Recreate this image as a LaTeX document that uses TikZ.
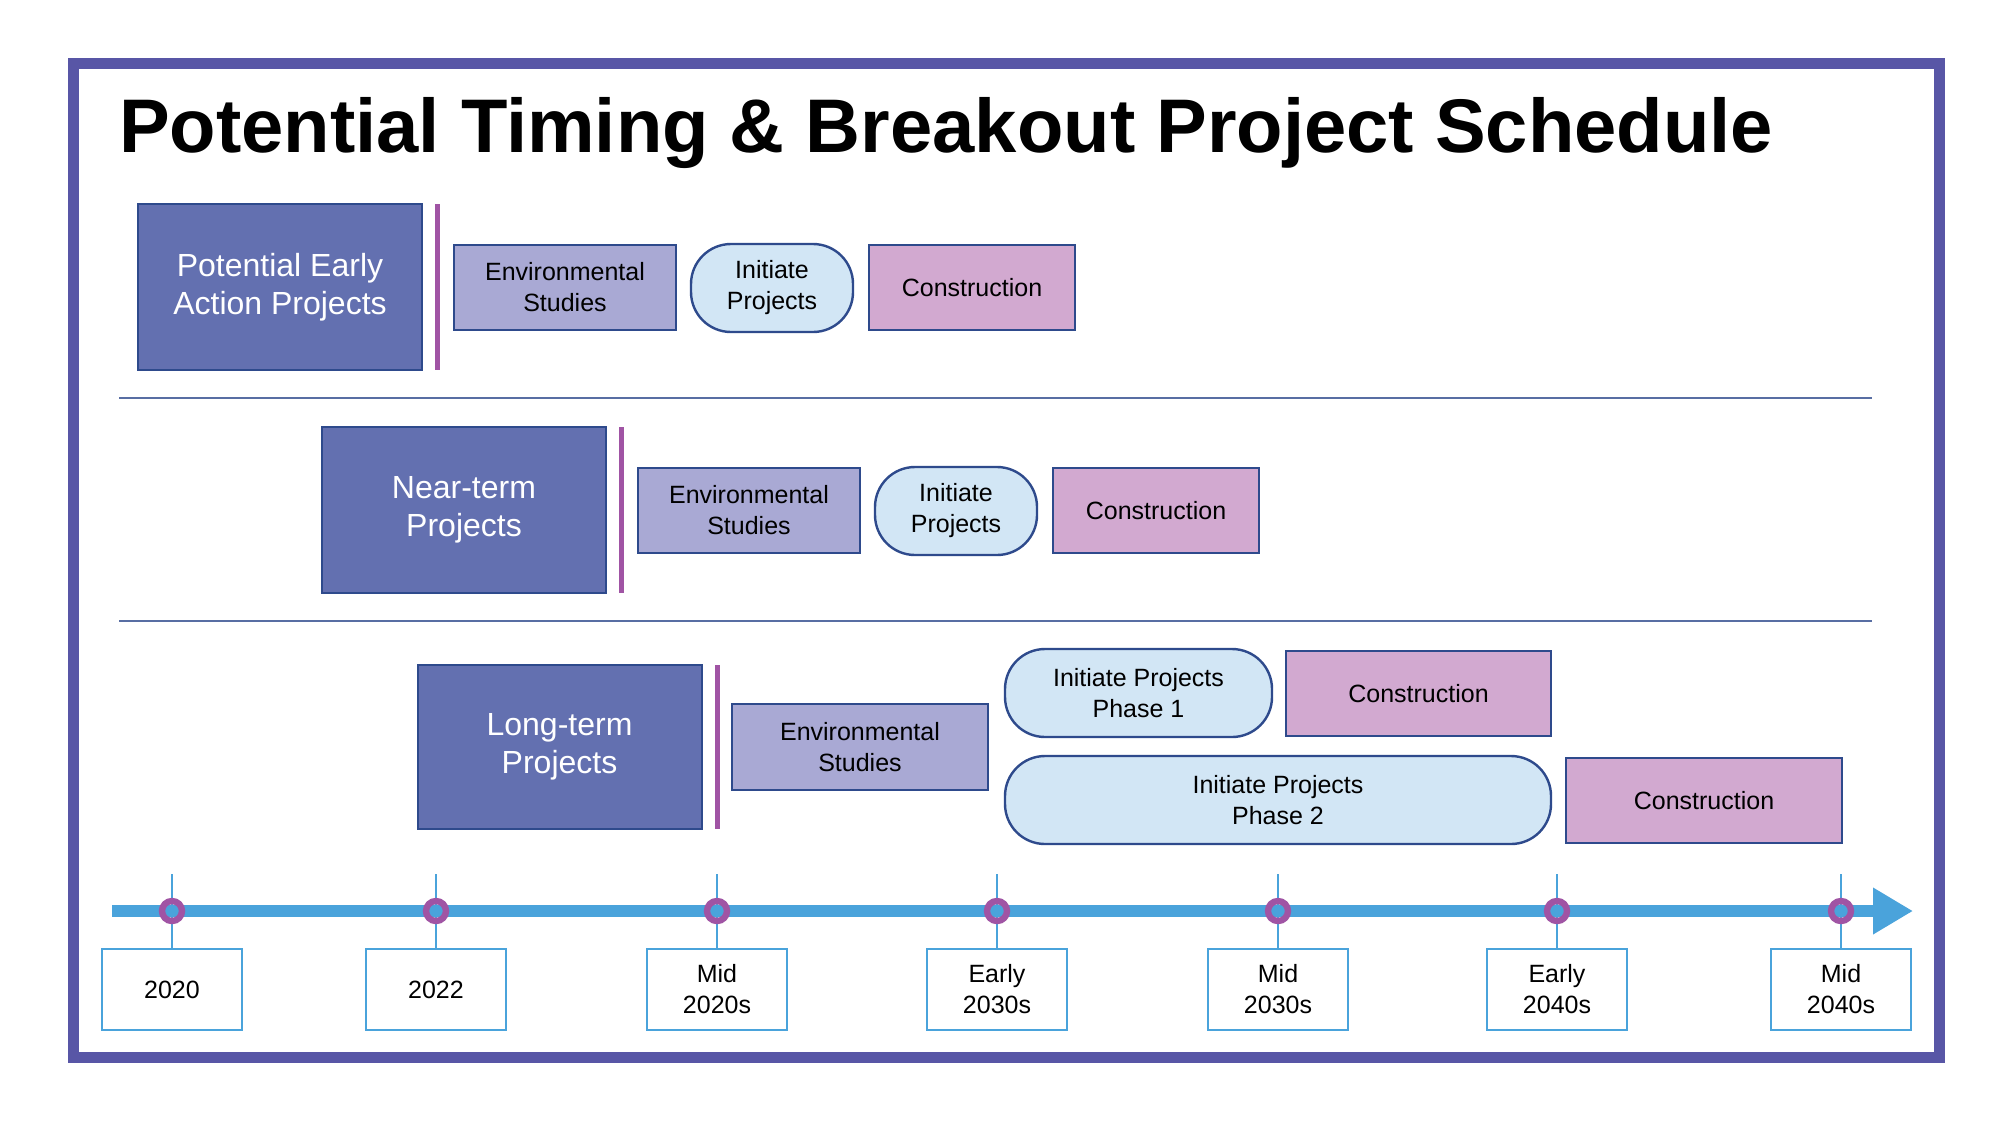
\documentclass[tikz,border=0pt]{standalone}
\usepackage{fontspec}
\setmainfont{Liberation Sans}
\usetikzlibrary{arrows.meta}
\definecolor{frame}{HTML}{5856A6}
\definecolor{cat}{HTML}{6370B0}
\definecolor{env}{HTML}{A9A9D4}
\definecolor{ovl}{HTML}{D2E6F5}
\definecolor{con}{HTML}{D2A9D0}
\definecolor{edge}{HTML}{2E4A8C}
\definecolor{tl}{HTML}{4AA3DB}
\definecolor{bar}{HTML}{A054A4}
\begin{document}
\begin{tikzpicture}[x=0.5pt,y=-0.5pt,
  catbox/.style={draw=edge,line width=1pt,fill=cat,text=white,font=\fontsize{16}{19}\selectfont,align=center},
  envbox/.style={draw=edge,line width=0.8pt,fill=env,font=\fontsize{12.5}{15.5}\selectfont,align=center},
  ovbox/.style={draw=edge,line width=1.2pt,fill=ovl,rounded corners=20pt,font=\fontsize{12.5}{15.5}\selectfont,align=center},
  conbox/.style={draw=edge,line width=0.8pt,fill=con,font=\fontsize{12.5}{15.5}\selectfont,align=center},
  lblbox/.style={draw=tl,line width=0.9pt,fill=white,font=\fontsize{12.5}{15.5}\selectfont,align=center,minimum width=70pt,minimum height=40.5pt,inner sep=0pt},
  barline/.style={draw=bar,line width=2.5pt},
  sep/.style={draw=edge!80,line width=0.7pt}]
\useasboundingbox (0,0) rectangle (2000,1125);
\fill[white] (0,0) rectangle (2000,1125);
\draw[frame,line width=5.5pt] (73,63) rectangle (1939,1057);
\node[anchor=west,font=\bfseries\fontsize{38}{44}\selectfont] (title) at (112,133) {Potential Timing \& Breakout Project Schedule};
% row 1
\node[catbox,minimum width=142pt,minimum height=83pt] (c1) at (280,287) {Potential Early\\Action Projects};
\draw[barline] (437.5,204) -- (437.5,370);
\node[envbox,minimum width=111pt,minimum height=42.5pt] (e1) at (565,287.5) {Environmental\\Studies};
\node[ovbox,minimum width=81pt,minimum height=44pt] (i1) at (772,288) {Initiate\\Projects};
\node[conbox,minimum width=103pt,minimum height=42.5pt] (k1) at (972,287.5) {Construction};
\coordinate (s1a) at (119,398); \coordinate (s1b) at (1872,398);
\draw[sep] (s1a) -- (s1b);
% row 2
\node[catbox,minimum width=142pt,minimum height=83pt] (c2) at (464,510) {Near-term\\Projects};
\draw[barline] (621.5,427) -- (621.5,593);
\node[envbox,minimum width=111pt,minimum height=42.5pt] (e2) at (749,510.5) {Environmental\\Studies};
\node[ovbox,minimum width=81pt,minimum height=44pt] (i2) at (956,511) {Initiate\\Projects};
\node[conbox,minimum width=103pt,minimum height=42.5pt] (k2) at (1156,510.5) {Construction};
\coordinate (s2a) at (119,621); \coordinate (s2b) at (1872,621);
\draw[sep] (s2a) -- (s2b);
% row 3
\node[catbox,minimum width=142pt,minimum height=82pt] (c3) at (559.5,747) {Long-term\\Projects};
\draw[barline] (717,665) -- (717,829);
\node[envbox,minimum width=128pt,minimum height=43pt] (e3) at (860,747) {Environmental\\Studies};
\node[ovbox,minimum width=133.5pt,minimum height=44pt] (p1) at (1138.5,693) {Initiate Projects\\Phase 1};
\node[conbox,minimum width=132.5pt,minimum height=42.5pt] (k3) at (1418.5,693.5) {Construction};
\node[ovbox,minimum width=273pt,minimum height=44pt] (p2) at (1278,800) {Initiate Projects\\Phase 2};
\node[conbox,minimum width=138pt,minimum height=42.5pt] (k4) at (1704,800.5) {Construction};
% timeline
\coordinate (ta) at (112,911); \coordinate (tb) at (1913,911);
\draw[tl,line width=6pt,-{Triangle[length=20pt,width=22pt]}] (ta) -- (tb);
\foreach \n/\x/\t in {a/172/2020,b/436/2022,c/717/{Mid\\2020s},d/997/{Early\\2030s},e/1278/{Mid\\2030s},f/1557/{Early\\2040s},g/1841/{Mid\\2040s}}{
  \coordinate (top\n) at (\x,874);
  \node[lblbox,anchor=north] (l\n) at (\x,948) {\t};
  \draw[tl,line width=1pt] (top\n) -- (l\n.north);
  \node[circle,draw=bar,line width=3.2pt,minimum size=10pt,inner sep=0pt] (m\n) at (\x,911) {};
}
\end{tikzpicture}
\end{document}
